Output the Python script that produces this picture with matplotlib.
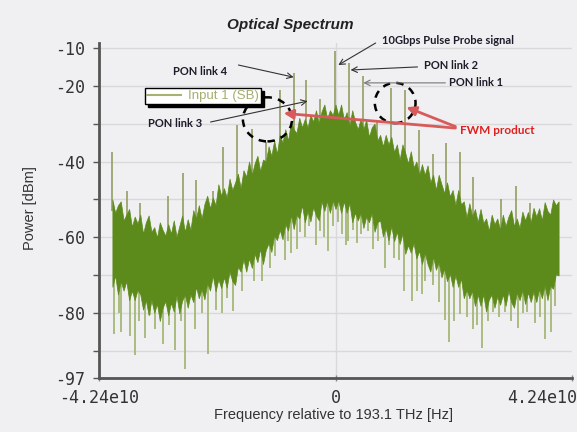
import numpy as np
import matplotlib.pyplot as plt
from matplotlib.patches import Ellipse
from matplotlib.lines import Line2D
import matplotlib.transforms as mtransforms

# envelope of the dense noise band, read every 0.5 GHz from -40 to 40 GHz (dBm)
freq_ghz = np.arange(-40, 40.5, 0.5)
band_top = [-50, -53.5, -51.5, -50.5, -55.5, -54, -52.5, -57.2, -54.5, -56.3,
            -54, -59, -56, -54.2, -58.5, -57.3, -60, -56, -58, -59.5,
            -56.5, -59, -55.5, -59.8, -57, -54.2, -58.5, -55.2, -58, -52.8,
            -55, -51.5, -55, -51.2, -49, -52.3, -49.5, -51.5, -46, -49,
            -47, -49.5, -44.5, -47.5, -45.5, -43.2, -47, -42.3, -44, -40,
            -43.5, -40.5, -38.5, -42.5, -39.5, -40, -36, -38.5, -34.5, -38,
            -33, -35, -31.5, -34.5, -29.5, -31.5, -32.5, -28.5, -31, -28.8,
            -31, -27.7, -29.5, -26.5, -30, -26.8, -25, -28.7, -26.5, -27.8,
            -25, -27.8, -25, -29, -27, -30.5, -26.5, -29.5, -31.5, -28.7,
            -31.5, -29, -33.5, -31, -30, -34.5, -33, -36, -33, -35.5,
            -33.5, -37.5, -35.5, -39.5, -35.5, -37.7, -40.5, -37.3, -41.5, -40,
            -43.5, -40.7, -43.5, -41, -45.5, -43.5, -47.5, -43.5, -46, -48.3,
            -45.5, -49.2, -47.5, -51.5, -47.5, -51.3, -50.5, -54.7, -51, -54.5,
            -52.5, -56, -52.5, -56.2, -55, -58.3, -54, -56.5, -55, -58,
            -54, -57, -54.5, -52.8, -57, -55, -57.5, -53.2, -55.5, -53.3,
            -56, -52.2, -54.5, -52.3, -55.5, -50.7, -53, -54, -50, -51.5,
            -50.5]
band_bottom = [-73, -70, -75, -71.5, -74, -71.5, -76.5, -74, -76.5, -73.8,
               -75, -79, -76.5, -80.5, -76.5, -79.8, -77.5, -82, -78.5, -76.8,
               -80.5, -77.2, -79.5, -75.3, -80, -76.7, -75, -78.5, -75, -77,
               -73, -76, -73.5, -76.3, -72, -74, -70, -74.2, -71, -73.3,
               -70.5, -73.2, -69, -71.5, -72.5, -67.7, -69, -65.8, -69, -65.5,
               -68, -64.3, -66.5, -63, -67, -63.3, -61.5, -63.8, -59.5, -60.7,
               -58, -60.5, -56.5, -58.2, -54, -57.8, -54, -55, -51.5, -56,
               -53, -55.8, -52, -54.2, -55.5, -50.5, -53, -50.3, -53.5, -50.2,
               -52.5, -50.2, -53.5, -50.5, -53.5, -51, -56, -53.5, -55.5, -53.5,
               -57.5, -54.5, -56, -53.5, -58.5, -56, -55.5, -59.7, -57.5, -60.8,
               -57, -61, -58.5, -61.7, -59, -64.3, -62, -64, -61.5, -65.5,
               -63.5, -67, -64, -67, -69, -65, -68.5, -66.5, -70.5, -68.2,
               -71.5, -69.5, -73, -70, -73, -70.8, -76, -73.7, -76, -74,
               -78, -75, -78, -75, -79.5, -76.3, -75, -78.5, -75.5, -77.7,
               -75, -78, -74, -77, -78.5, -74.5, -76.5, -73.8, -77.5, -74.5,
               -77, -74.2, -77, -73.5, -76, -72.5, -76.5, -72.7, -73.5, -69.7,
               -70]

# tall tones above the band (GHz, dBm)
up_ghz = [-40.0, -37.3, -35.0, -30.0, -27.4, -25.0, -22.0, -20.2, -17.6, -15.0,
          -12.5, -10.0, -7.5, -5.2, -2.7, -0.1, 2.4, 4.9, 7.4, 9.9,
          12.4, 14.9, 17.4, 19.9, 22.4, 24.7, 29.7, 32.3, 34.8]
up_db = [-37.6, -47.7, -51, -49, -43, -45, -47.7, -36.3, -30.3, -31.5,
         -34.8, -21.2, -16.8, -18.6, -23.5, -11, -14, -17.6, -29, -20.6,
         -21.3, -31.8, -38, -35, -37.5, -44, -50, -46.5, -51]

# deep dips below the band (GHz, dBm)
down_ghz = [-39.8, -38.9, -38.4, -36.9, -36.0, -35.2, -34.2, -33.3, -32.3, -31.0,
            -29.8, -28.7, -27.7, -26.9, -25.1, -24.0, -22.8, -21.5, -20.3, -19.4,
            -18.3, -16.7, -14.7, -13.1, -11.8, -10.8, -9.1, -8.5, -7.9, -6.9,
            -6.3, -5.5, -4.8, -3.5, -2.7, -2.0, -1.4, -0.5, 0.5, 1.2,
            1.8, 2.3, 3.2, 3.9, 4.6, 5.9, 6.8, 7.7, 8.8, 9.6,
            10.4, 11.3, 12.2, 13.8, 14.7, 15.5, 16.1, 17.4, 18.6, 19.7,
            20.4, 21.3, 22.4, 23.5, 24.6, 25.4, 26.3, 27.3, 28.3, 29.3,
            30.3, 31.5, 32.8, 33.6, 34.4, 35.8, 36.7, 37.6, 38.7, 39.3]
down_db = [-85.5, -80, -85, -86, -91, -82, -86.5, -80.5, -84, -88,
           -83, -89.5, -82, -94.7, -84, -80, -90.8, -79, -80, -76,
           -79.4, -74, -71.5, -71.5, -68, -65, -66, -61, -64, -63,
           -58.5, -60, -57, -62, -58.4, -60, -63.5, -57, -56, -59,
           -62, -61, -58, -61.4, -59, -58.4, -63, -61, -68, -62,
           -65.4, -66, -74, -76.8, -74, -75, -71.5, -72.4, -77, -81.6,
           -87.4, -82, -80.2, -81, -84, -83, -89, -82, -79.5, -81,
           -79.5, -82, -83.8, -80, -79.5, -82.6, -81, -86.8, -85, -78]

GREEN = '#5c8b1c'
BG = '#f0f0f2'

fig = plt.figure(figsize=(5.77, 4.32), dpi=100, facecolor=BG)
ax = fig.add_axes([99 / 577, 1 - 378 / 432, 473 / 577, 335 / 432], facecolor=BG)

f_hz = freq_ghz * 1e9
ax.fill_between(f_hz, band_bottom, band_top, color=GREEN, lw=0.5, edgecolor=GREEN, zorder=3)

up_f = np.array(up_ghz)
ax.vlines(up_f * 1e9, np.interp(up_f, freq_ghz, band_top) - 3, up_db,
          color='#9aa46c', lw=1.3, zorder=2)
down_f = np.array(down_ghz)
ax.vlines(down_f * 1e9, down_db, np.interp(down_f, freq_ghz, band_bottom) + 3,
          color='#a4b877', lw=1.3, zorder=2)

ax.set_xlim(-4.24e10, 4.24e10)
ax.set_ylim(-97, -8.8)

for s in ['top', 'right']:
    ax.spines[s].set_visible(False)
for s in ['left', 'bottom']:
    ax.spines[s].set_color('#555555')
    ax.spines[s].set_linewidth(2)

mono = 'DejaVu Sans Mono'
ax.set_yticks([-10, -20, -40, -60, -80, -97])
ax.set_yticklabels(['-10', '-20', '-40', '-60', '-80', '-97'], fontfamily=mono, fontsize=12)
ax.set_yticks([-30, -50, -70, -90], minor=True)
ax.set_xticks([-4.24e10, 0, 4.24e10])
ax.set_xticklabels(['-4.24e10', '0', '4.24e10'], fontfamily=mono, fontsize=12)
ax.tick_params(axis='y', which='both', length=4, width=1, color='#555555', pad=6, labelcolor='#333333')
ax.tick_params(axis='x', length=4, width=1, color='#888888', direction='inout', pad=6, labelcolor='#333333')
lbls = ax.get_xticklabels()
lbls[-1].set_horizontalalignment('right')
lbls[-1].set_transform(lbls[-1].get_transform() + mtransforms.ScaledTranslation(5 / 100, 0, fig.dpi_scale_trans))

for yv in [-10, -20, -30, -40, -50, -60, -70, -80, -90]:
    ax.axhline(yv, color='#d9d9dc', lw=1, zorder=0)
ax.axvline(0, color='#d9d9dc', lw=1, zorder=0)

fig.text(290 / 577, 1 - 25 / 432, 'Optical Spectrum', ha='center', va='center',
         fontsize=11, fontweight='bold', fontstyle='italic', family='Liberation Sans', color='#222222')
fig.text(30 / 577, 1 - 208 / 432, 'Power [dBm]', rotation=90, ha='center', va='center',
         fontsize=10.5, family='Liberation Sans', color='#333333')
fig.text(334 / 577, 1 - 415 / 432, 'Frequency relative to 193.1 THz [Hz]', ha='center', va='center',
         fontsize=10.5, family='Liberation Sans', color='#333333')

leg = ax.legend([Line2D([0], [0], color='#a7b172', lw=1.5)], ['Input 1 (SB)'],
                loc='upper left', bbox_to_anchor=(145 / 577, 1 - 88 / 432), bbox_transform=fig.transFigure,
                borderaxespad=0, fancybox=False, framealpha=1, edgecolor='black',
                shadow={'color': 'black', 'alpha': 1}, handlelength=2.6,
                borderpad=0.15, handletextpad=0.5, prop={'family': 'Liberation Sans', 'size': 9.5})
leg.get_texts()[0].set_color('#a4ae6e')
leg.set_zorder(6)

ann = dict(family='Lato', fontweight='bold', fontsize=8, color='#1c1c2a')
arrow_k = dict(arrowstyle='->', color='#333333', lw=0.8, shrinkA=0, shrinkB=0)

ax.text(-24.2e9, -16.2, 'PON link 4', ha='center', va='center', zorder=7, **ann)
ax.annotate('', xy=(-7.5e9, -17.8), xytext=(-17.4e9, -14.6), arrowprops=arrow_k, zorder=7)
ax.text(-28.7e9, -29.9, 'PON link 3', ha='center', va='center', zorder=7, **ann)
ax.annotate('', xy=(-5.0e9, -24.1), xytext=(-22.4e9, -29.6), arrowprops=arrow_k, zorder=7)
ax.text(8.4e9, -8.2, '10Gbps Pulse Probe signal', ha='left', va='center', zorder=7, clip_on=False, **ann)
ax.annotate('', xy=(0.5e9, -14.6), xytext=(7.2e9, -8.8), arrowprops=arrow_k, zorder=7, annotation_clip=False)
ax.text(15.9e9, -14.6, 'PON link 2', ha='left', va='center', zorder=7, **ann)
ax.annotate('', xy=(2.7e9, -15.9), xytext=(14.7e9, -15.1), arrowprops=arrow_k, zorder=7)
ax.text(20.3e9, -19.1, 'PON link 1', ha='left', va='center', zorder=7, **ann)
ax.annotate('', xy=(5.0e9, -19.3), xytext=(19.7e9, -19.3),
            arrowprops=dict(arrow_k, color='#777777'), zorder=7)

ax.text(22.4e9, -31.8, 'FWM product', ha='left', va='center', zorder=7,
        family='Lato', fontweight='bold', fontsize=8.5, color='#e0201e')
red_k = dict(arrowstyle='-|>', color='#d95a5a', lw=2, shrinkA=0, shrinkB=0, mutation_scale=14)
ax.annotate('', xy=(-9.3e9, -27.3), xytext=(21.5e9, -31.2), arrowprops=red_k, zorder=6)
ax.annotate('', xy=(12.7e9, -25.7), xytext=(21.5e9, -30.8), arrowprops=red_k, zorder=6)

for cx, cy, w, h in [(-12.2e9, -28.9, 8.8e9, 11.6), (10.7e9, -24.6, 7.3e9, 10.6)]:
    ax.add_patch(Ellipse((cx, cy), w, h, fill=False, ls=(0, (3, 2.5)), lw=1.8, color='black', zorder=5))

fig.savefig('out.png', dpi=100, facecolor=BG)
